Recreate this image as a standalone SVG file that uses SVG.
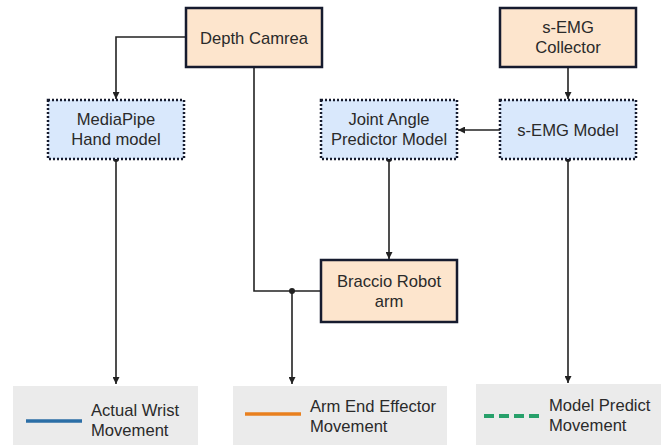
<svg xmlns="http://www.w3.org/2000/svg" width="667" height="445" viewBox="0 0 667 445">
  <defs>
    <marker id="arrow" viewBox="0 0 10 10" refX="10" refY="5" markerWidth="7" markerHeight="7" markerUnits="userSpaceOnUse" orient="auto">
      <path d="M0,0 L10,5 L0,10 z" fill="#222"/>
    </marker>
    <marker id="dot" viewBox="0 0 10 10" refX="5" refY="5" markerWidth="6" markerHeight="6" markerUnits="userSpaceOnUse">
      <circle cx="5" cy="5" r="5" fill="#222"/>
    </marker>
  </defs>
  <style>
    text { font-family: "Liberation Sans", Arial, sans-serif; font-size: 16.6px; fill: #2a2a2a; }
    .hw { fill: #fde5cd; stroke: #161b2e; stroke-width: 2.5; }
    .model { fill: #d9e8fc; stroke: #161b2e; stroke-width: 2.5; stroke-dasharray: 2 2; }
    .legend { fill: #ebebeb; }
    .conn { fill: none; stroke: #222; stroke-width: 1.6; }
  </style>
  <rect width="667" height="445" fill="#ffffff"/>

  <!-- connectors -->
  <g id="connectors">
    <path class="conn" d="M186,37 H116 V99" marker-end="url(#arrow)"/>
    <path class="conn" d="M254,67 V291 H321"/>
    <path class="conn" d="M292,291 V384" marker-start="url(#dot)" marker-end="url(#arrow)"/>
    <path class="conn" d="M568,67 V99" marker-end="url(#arrow)"/>
    <path class="conn" d="M500,130 H458" marker-end="url(#arrow)"/>
    <path class="conn" d="M389,159 V259" marker-start="url(#dot)" marker-end="url(#arrow)"/>
    <path class="conn" d="M116,159 V384" marker-start="url(#dot)" marker-end="url(#arrow)"/>
    <path class="conn" d="M568,159 V383" marker-start="url(#dot)" marker-end="url(#arrow)"/>
  </g>

  <g id="depth-camera">
    <rect class="hw" x="186" y="8" width="136" height="59"/>
    <text x="254" y="43.5" text-anchor="middle">Depth Camrea</text>
  </g>

  <g id="semg-collector">
    <rect class="hw" x="500" y="8" width="136" height="59"/>
    <text x="568" y="33" text-anchor="middle">s-EMG</text>
    <text x="568" y="53" text-anchor="middle">Collector</text>
  </g>

  <g id="mediapipe">
    <rect class="model" x="48" y="100" width="136" height="59"/>
    <text x="116" y="125" text-anchor="middle">MediaPipe</text>
    <text x="116" y="145" text-anchor="middle">Hand model</text>
  </g>

  <g id="joint-angle">
    <rect class="model" x="321" y="100" width="136" height="59"/>
    <text x="389" y="125" text-anchor="middle">Joint Angle</text>
    <text x="389" y="145" text-anchor="middle">Predictor Model</text>
  </g>

  <g id="semg-model">
    <rect class="model" x="500" y="100" width="136" height="59"/>
    <text x="568" y="135.5" text-anchor="middle">s-EMG Model</text>
  </g>

  <g id="braccio">
    <rect class="hw" x="321" y="260" width="136" height="62"/>
    <text x="389" y="287" text-anchor="middle">Braccio Robot</text>
    <text x="389" y="307" text-anchor="middle">arm</text>
  </g>

  <g id="legend-actual">
    <rect class="legend" x="13" y="386" width="185" height="59"/>
    <line x1="26" y1="421" x2="82" y2="421" stroke="#2b6ea6" stroke-width="3.5"/>
    <text x="91" y="416">Actual Wrist</text>
    <text x="91" y="436">Movement</text>
  </g>

  <g id="legend-effector">
    <rect class="legend" x="233" y="386" width="214" height="59"/>
    <line x1="245" y1="414" x2="301" y2="414" stroke="#e9801f" stroke-width="3.5"/>
    <text x="310" y="412">Arm End Effector</text>
    <text x="310" y="432">Movement</text>
  </g>

  <g id="legend-predict">
    <rect class="legend" x="476" y="384" width="185" height="61"/>
    <line x1="484" y1="416" x2="539" y2="416" stroke="#27a06a" stroke-width="4" stroke-dasharray="10 5"/>
    <text x="549" y="411">Model Predict</text>
    <text x="549" y="431">Movement</text>
  </g>
</svg>
